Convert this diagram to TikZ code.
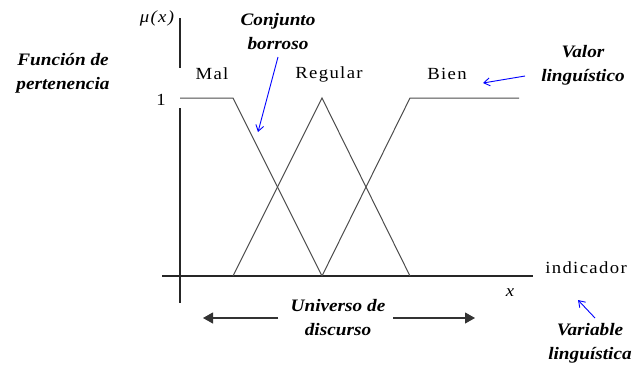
\documentclass[tikz,border=0pt]{standalone}
\usepackage{fontspec}
\setmainfont{Liberation Serif}[FakeStretch=1.1]
\usetikzlibrary{arrows.meta}
\begin{document}
\begin{tikzpicture}[x=1pt,y=-1pt,
  axis/.style={line width=1.1pt, draw=black!85},
  curve/.style={line width=1pt, draw=black!70},
  lbl/.style={inner sep=0pt, font=\fontsize{17}{17}\selectfont\addfontfeatures{LetterSpace=8}},
  note/.style={inner sep=0pt, align=center, font=\fontsize{17.5}{24}\selectfont\bfseries\itshape},
  bluearr/.style={draw=blue, -{Straight Barb[length=6pt,width=8pt]}, line width=0.9pt},
  bigarr/.style={-{Triangle[length=10pt,width=11pt]}, line width=1.1pt, draw=black!80, fill=black!80}]
\useasboundingbox (0,0) rectangle (634,367);
% axes
\coordinate (ytop) at (180,18);
\coordinate (ygap1) at (180,68);
\coordinate (ygap2) at (180,108);
\coordinate (ybot) at (180,303);
\coordinate (xl) at (162,276);
\coordinate (xr) at (533,276);
\draw[axis] (ytop) -- (ygap1);
\draw[axis] (ygap2) -- (ybot);
\draw[axis] (xl) -- (xr);
% membership functions
\coordinate (m0) at (180,98);
\coordinate (m1) at (233,98);
\coordinate (b0) at (233,276);
\coordinate (pk) at (322,98);
\coordinate (v0) at (322,276);
\coordinate (b1) at (410,276);
\coordinate (t1) at (410,98);
\coordinate (t2) at (519,98);
\draw[curve] (m0) -- (m1) -- (v0);
\draw[curve] (b0) -- (pk) -- (b1);
\draw[curve] (v0) -- (t1) -- (t2);
% labels
\node[lbl] (mu) at (157,18) {\itshape μ(x)};
\node[lbl] (one) at (161,100) {1};
\node[lbl] (mal) at (212,74) {Mal};
\node[lbl] (reg) at (329,74) {Regular};
\node[lbl] (bien) at (447,74) {Bien};
\node[lbl] (ind) at (586,268) {indicador};
\node[lbl] (xl2) at (510,293) {\itshape x};
% notes
\node[note] (fp) at (63,73) {Función de\\pertenencia};
\node[note] (cb) at (278,32) {Conjunto\\borroso};
\node[note] (vl) at (583,65) {Valor\\linguístico};
\node[note] (ud) at (338,318) {Universo de\\discurso};
\node[note] (vg) at (590,343) {Variable\\linguística};
% blue arrows
\coordinate (cbs) at (278,57);
\coordinate (cbt) at (258,132);
\coordinate (vls) at (525,76);
\coordinate (vlt) at (483,83);
\coordinate (vgs) at (595,318);
\coordinate (vgt) at (578,300);
\draw[bluearr] (cbs) -- (cbt);
\draw[bluearr] (vls) -- (vlt);
\draw[bluearr] (vgs) -- (vgt);
% universe arrows
\coordinate (als) at (278,318);
\coordinate (al) at (203,318);
\coordinate (ars) at (393,318);
\coordinate (ar) at (475,318);
\draw[bigarr] (als) -- (al);
\draw[bigarr] (ars) -- (ar);
\end{tikzpicture}
\end{document}
